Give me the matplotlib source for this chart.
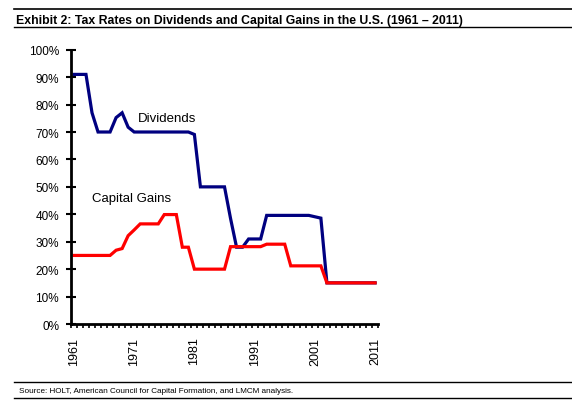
import matplotlib
matplotlib.use("Agg")
import matplotlib.pyplot as plt
from matplotlib.lines import Line2D
from matplotlib.ticker import MultipleLocator, FixedLocator

plt.rcParams['font.family'] = ['Liberation Sans', 'DejaVu Sans']

# data
years = list(range(1961, 2012))
dividends = [91, 91, 91, 77, 70, 70, 70, 75.25, 77, 71.75,
             70, 70, 70, 70, 70, 70, 70, 70, 70, 70,
             69.1, 50, 50, 50, 50, 50, 38.5, 28, 28, 31,
             31, 31, 39.6, 39.6, 39.6, 39.6, 39.6, 39.6, 39.6, 39.6,
             39.1, 38.6, 15, 15, 15, 15, 15, 15, 15, 15,
             15]
cap_gains = [25, 25, 25, 25, 25, 25, 25, 26.9, 27.5, 32.2,
             34.3, 36.5, 36.5, 36.5, 36.5, 39.9, 39.9, 39.9, 28, 28,
             20, 20, 20, 20, 20, 20, 28.2, 28.2, 28.2, 28.2,
             28.2, 28.2, 29.1, 29.1, 29.1, 29.1, 21.2, 21.2, 21.2, 21.2,
             21.2, 21.2, 15, 15, 15, 15, 15, 15, 15, 15,
             15]
label_years = [1961, 1971, 1981, 1991, 2001, 2011]
y_ticks = list(range(0, 101, 10))

fig = plt.figure(figsize=(5.72, 4.10), dpi=100)
ax = fig.add_axes([0.124, 0.2073, 0.537, 0.669])

ax.plot(years, dividends, color='#000080', lw=2.3, solid_joinstyle='miter')
ax.plot(years, cap_gains, color='#FF0000', lw=2.3, solid_joinstyle='miter')

ax.text(1971.6, 75.2, 'Dividends', fontsize=9.5, va='center')
ax.text(1964.0, 46, 'Capital Gains', fontsize=9.5, va='center')

ax.set_xlim(1960.5, 2011.5)
ax.set_ylim(0, 100)

# y axis
ax.yaxis.set_major_locator(FixedLocator(y_ticks))
ax.set_yticklabels([f'{v}%' for v in y_ticks])
ax.tick_params(axis='y', direction='inout', length=7, width=1.5, labelsize=8.5, pad=5)

# x axis: one small tick per year boundary, labels every ten years
ax.xaxis.set_major_locator(FixedLocator(label_years))
ax.set_xticklabels([str(y) for y in label_years], rotation=90)
ax.xaxis.set_minor_locator(MultipleLocator(1, offset=0.5))
ax.tick_params(axis='x', which='major', length=0, labelsize=9, pad=9)
ax.tick_params(axis='x', which='minor', direction='out', length=3, width=1.2)

for s in ['top', 'right']:
    ax.spines[s].set_visible(False)
for s in ['left', 'bottom']:
    ax.spines[s].set_linewidth(2)

# title and source with rules
fig.text(0.028, 0.948, 'Exhibit 2: Tax Rates on Dividends and Capital Gains in the U.S. (1961 \u2013 2011)',
         fontsize=8.8, fontweight='bold', va='center')
fig.text(0.034, 0.046, 'Source: HOLT, American Council for Capital Formation, and LMCM analysis.',
         fontsize=5.85, va='center')
for yy, lw in [(1 - 10 / 410, 1.2), (1 - 28 / 410, 1.0), (1 - 383 / 410, 1.0), (1 - 399 / 410, 1.0)]:
    fig.add_artist(Line2D([0.024, 1.0], [yy, yy], color='black', lw=lw))

fig.savefig('out.png', dpi=100)
